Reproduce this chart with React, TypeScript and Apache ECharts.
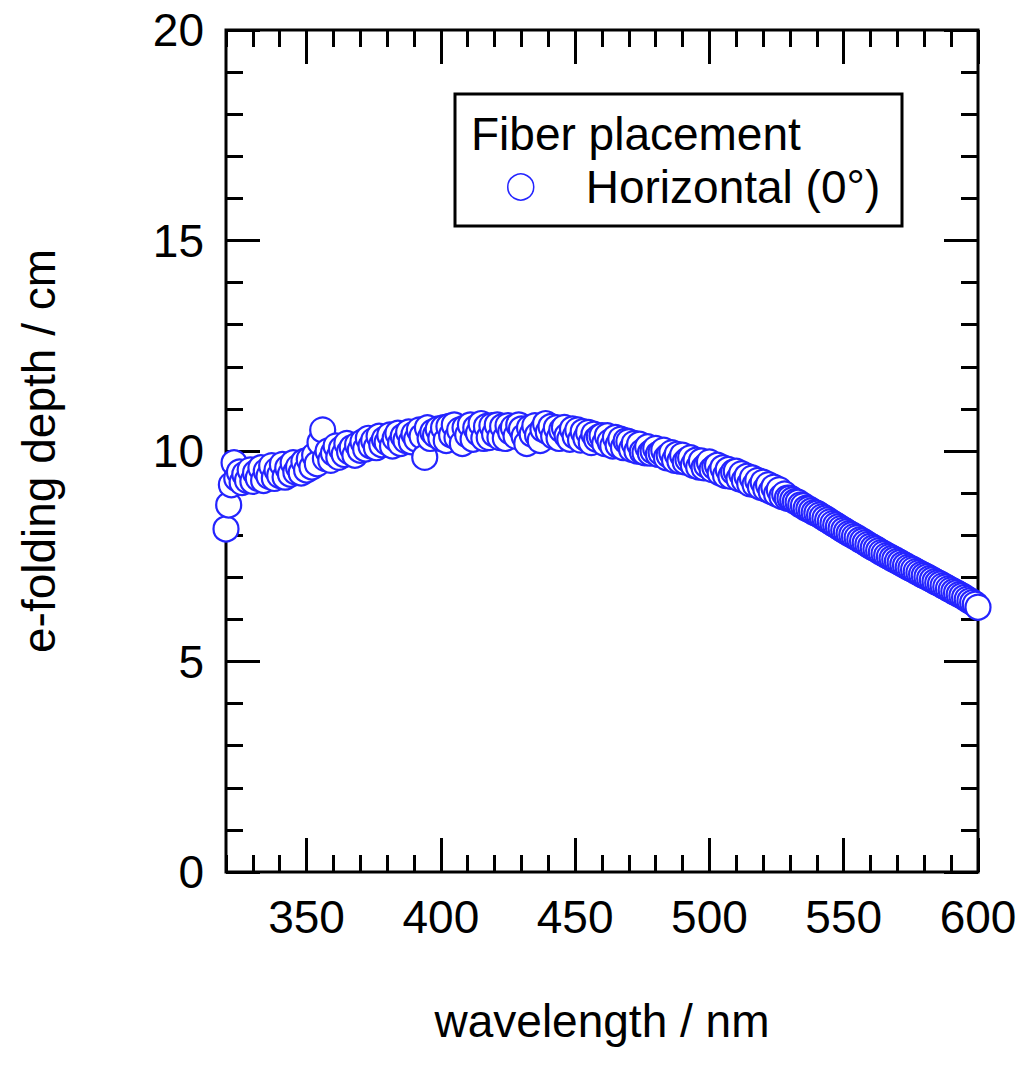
import React, { useEffect, useRef } from "react";
import * as echarts from "echarts";

const wavelengthStart = 320; // nm, one sample per nm
const depth320s = [8.15, 8.72, 9.2, 9.72, 9.35, 9.5, 9.25, 9.45, 9.3, 9.55];
const depth330s = [9.28, 9.48, 9.35, 9.6, 9.3, 9.52, 9.4, 9.65, 9.35, 9.55];
const depth340s = [9.42, 9.68, 9.38, 9.6, 9.45, 9.72, 9.5, 9.62, 9.48, 9.75];
const depth350s = [9.55, 9.8, 9.62, 9.9, 9.7, 10.2, 10.5, 9.82, 10.0, 9.78];
const depth360s = [9.95, 10.12, 9.85, 10.05, 9.92, 10.18, 9.98, 10.08, 9.9, 10.15];
const depth370s = [10.02, 10.22, 10.05, 10.3, 10.12, 10.25, 10.08, 10.35, 10.15, 10.28];
const depth380s = [10.2, 10.38, 10.12, 10.3, 10.42, 10.18, 10.35, 10.25, 10.45, 10.22];
const depth390s = [10.4, 10.28, 10.5, 10.35, 9.85, 10.55, 10.3, 10.45, 10.38, 10.52];
const depth400s = [10.3, 10.55, 10.25, 10.58, 10.38, 10.62, 10.32, 10.5, 10.18, 10.55];
const depth410s = [10.38, 10.62, 10.28, 10.55, 10.42, 10.65, 10.3, 10.58, 10.32, 10.6];
const depth420s = [10.4, 10.62, 10.32, 10.58, 10.3, 10.6, 10.45, 10.56, 10.35, 10.62];
const depth430s = [10.52, 10.35, 10.18, 10.55, 10.4, 10.6, 10.38, 10.25, 10.52, 10.65];
const depth440s = [10.45, 10.58, 10.35, 10.55, 10.3, 10.5, 10.56, 10.36, 10.28, 10.52];
const depth450s = [10.35, 10.5, 10.26, 10.46, 10.3, 10.44, 10.2, 10.4, 10.28, 10.34];
const depth460s = [10.36, 10.18, 10.36, 10.22, 10.12, 10.32, 10.14, 10.28, 10.08, 10.24];
const depth470s = [10.22, 10.04, 10.18, 10.0, 10.16, 9.98, 9.96, 10.1, 9.95, 10.0];
const depth480s = [10.06, 9.92, 9.96, 10.02, 9.84, 9.9, 9.96, 9.78, 9.92, 9.76];
const depth490s = [9.9, 9.74, 9.8, 9.84, 9.66, 9.78, 9.62, 9.76, 9.6, 9.66];
const depth500s = [9.74, 9.56, 9.62, 9.66, 9.48, 9.6, 9.42, 9.56, 9.4, 9.5];
const depth510s = [9.52, 9.34, 9.46, 9.3, 9.4, 9.22, 9.36, 9.2, 9.3, 9.14];
const depth520s = [9.26, 9.1, 9.2, 9.04, 9.14, 8.98, 9.08, 8.92, 8.98, 8.88];
const depth530s = [8.88, 8.84, 8.8, 8.78, 8.72, 8.7, 8.64, 8.62, 8.58, 8.54];
const depth540s = [8.52, 8.48, 8.44, 8.4, 8.36, 8.32, 8.28, 8.24, 8.2, 8.16];
const depth550s = [8.12, 8.08, 8.04, 8.01, 7.97, 7.94, 7.89, 7.86, 7.82, 7.78];
const depth560s = [7.74, 7.7, 7.67, 7.63, 7.59, 7.56, 7.52, 7.49, 7.45, 7.42];
const depth570s = [7.38, 7.35, 7.31, 7.28, 7.24, 7.21, 7.18, 7.14, 7.11, 7.07];
const depth580s = [7.04, 7.01, 6.97, 6.94, 6.9, 6.87, 6.84, 6.8, 6.77, 6.73];
const depth590s = [6.7, 6.66, 6.63, 6.59, 6.56, 6.52, 6.48, 6.44, 6.4, 6.36];
const depth600 = [6.29];

const xMajorTicks = [350, 400, 450, 500, 550, 600];
const seriesName = "Horizontal (0°)";
const legendTitle = "Fiber placement";
const xTitle = "wavelength / nm";
const yTitle = "e-folding depth / cm";

const depthValues = [
  ...depth320s, ...depth330s, ...depth340s, ...depth350s, ...depth360s,
  ...depth370s, ...depth380s, ...depth390s, ...depth400s, ...depth410s,
  ...depth420s, ...depth430s, ...depth440s, ...depth450s, ...depth460s,
  ...depth470s, ...depth480s, ...depth490s, ...depth500s, ...depth510s,
  ...depth520s, ...depth530s, ...depth540s, ...depth550s, ...depth560s,
  ...depth570s, ...depth580s, ...depth590s, ...depth600,
];

const FONT = "'Liberation Sans', Arial, Helvetica, sans-serif";
const BLUE = "#2424ff";

export default function App() {
  const ref = useRef<HTMLDivElement>(null);
  useEffect(() => {
    if (!ref.current) return;
    const chart = echarts.init(ref.current, null, { renderer: "svg" });
    const data = depthValues.map((v, i) => [wavelengthStart + i, v]);

    const xCommon = {
      type: "value",
      min: 320,
      max: 600,
      axisLine: { show: false, onZero: false },
      splitLine: { show: false },
    };
    const yCommon = {
      type: "value",
      min: 0,
      max: 20,
      interval: 5,
      axisLine: { show: false, onZero: false },
      splitLine: { show: false },
    };
    const majorTick = { show: true, inside: true, length: 34, lineStyle: { color: "#000", width: 3 } };
    const minorTickLine = { color: "#000", width: 3 };

    const option: any = {
      animation: false,
      backgroundColor: "#fff",
      textStyle: { fontFamily: FONT },
      grid: {
        left: 226,
        right: 49,
        top: 30,
        bottom: 196,
        show: true,
        borderColor: "#000",
        borderWidth: 3,
        backgroundColor: "transparent",
      },
      xAxis: [
        {
          ...xCommon,
          position: "bottom",
          name: xTitle,
          nameLocation: "middle",
          nameGap: 126,
          nameTextStyle: { fontSize: 46, color: "#000", fontFamily: FONT },
          axisTick: { ...majorTick, customValues: xMajorTicks },
          axisLabel: {
            show: true,
            customValues: xMajorTicks,
            fontSize: 46,
            color: "#000",
            margin: 22,
            fontFamily: FONT,
          },
        },
        {
          ...xCommon,
          position: "bottom",
          interval: 10,
          axisTick: { show: true, inside: true, length: 17, lineStyle: minorTickLine },
          axisLabel: { show: false },
        },
        {
          ...xCommon,
          position: "top",
          axisTick: { ...majorTick, customValues: xMajorTicks },
          axisLabel: { show: false },
        },
        {
          ...xCommon,
          position: "top",
          interval: 10,
          axisTick: { show: true, inside: true, length: 17, lineStyle: minorTickLine },
          axisLabel: { show: false },
        },
      ],
      yAxis: [
        {
          ...yCommon,
          position: "left",
          name: yTitle,
          nameLocation: "middle",
          nameRotate: 90,
          nameGap: 164,
          nameTextStyle: { fontSize: 46, color: "#000", fontFamily: FONT },
          axisTick: majorTick,
          minorTick: { show: true, splitNumber: 5, length: 17, lineStyle: minorTickLine },
          axisLabel: { show: true, fontSize: 46, color: "#000", margin: 22, fontFamily: FONT },
        },
        {
          ...yCommon,
          position: "right",
          axisTick: majorTick,
          minorTick: { show: true, splitNumber: 5, length: 17, lineStyle: minorTickLine },
          axisLabel: { show: false },
        },
      ],
      legend: {
        show: true,
        z: 20,
        data: [seriesName],
        left: 507,
        top: 164,
        padding: 0,
        itemWidth: 26,
        itemHeight: 26,
        itemStyle: { color: "#fff", borderColor: BLUE, borderWidth: 1.5 },
        textStyle: { fontSize: 46, color: "#000", fontFamily: FONT, padding: [0, 0, 0, 47] },
      },
      graphic: [
        {
          type: "rect",
          shape: { x: 455, y: 94, width: 447, height: 132 },
          style: { fill: "#fff", stroke: "#000", lineWidth: 3 },
          z: 1,
        },
        {
          type: "text",
          x: 471,
          y: 134,
          style: {
            text: legendTitle,
            font: `46px ${FONT}`,
            fill: "#000",
            verticalAlign: "middle",
            align: "left",
          },
          z: 6,
        },
      ],
      series: [
        {
          name: seriesName,
          type: "scatter",
          xAxisIndex: 0,
          yAxisIndex: 0,
          symbol: "circle",
          symbolSize: 25,
          itemStyle: { color: "#fff", borderColor: BLUE, borderWidth: 2.2, opacity: 1 },
          data,
          z: 2,
        },
      ],
    };
    chart.setOption(option);
    return () => chart.dispose();
  }, []);
  return (
    <div
      ref={ref}
      style={{ position: "absolute", left: 0, top: 0, width: 1027, height: 1068 }}
    />
  );
}
